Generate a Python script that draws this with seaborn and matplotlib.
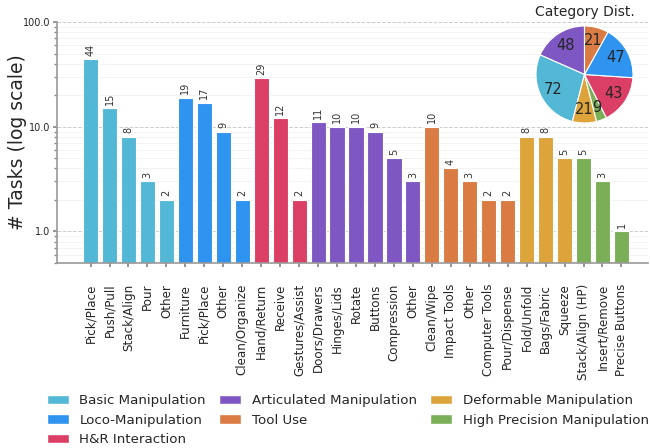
import matplotlib
matplotlib.use("Agg")
import matplotlib.pyplot as plt
import seaborn as sns
import pandas as pd
import numpy as np
from matplotlib.patches import Patch
from matplotlib.ticker import FormatStrFormatter, LogLocator, NullFormatter

categories = ["Basic Manipulation", "Loco-Manipulation", "H&R Interaction",
              "Articulated Manipulation", "Tool Use", "Deformable Manipulation",
              "High Precision Manipulation"]
colors = ["#52B8D6", "#2F93F0", "#DC3F65", "#7E57C2", "#D97B42", "#DCA43A", "#7AAF58"]

basic_labels = ["Pick/Place", "Push/Pull", "Stack/Align", "Pour", "Other"]
basic_values = [44, 15, 8, 3, 2]
loco_labels = ["Furniture", "Pick/Place", "Other", "Clean/Organize"]
loco_values = [19, 17, 9, 2]
hr_labels = ["Hand/Return", "Receive", "Gestures/Assist"]
hr_values = [29, 12, 2]
artic_labels = ["Doors/Drawers", "Hinges/Lids", "Rotate", "Buttons", "Compression", "Other"]
artic_values = [11, 10, 10, 9, 5, 3]
tool_labels = ["Clean/Wipe", "Impact Tools", "Other", "Computer Tools", "Pour/Dispense"]
tool_values = [10, 4, 3, 2, 2]
deform_labels = ["Fold/Unfold", "Bags/Fabric", "Squeeze"]
deform_values = [8, 8, 5]
hp_labels = ["Stack/Align (HP)", "Insert/Remove", "Precise Buttons"]
hp_values = [5, 3, 1]

pie_order = ["Articulated Manipulation", "Basic Manipulation", "Deformable Manipulation",
             "High Precision Manipulation", "H&R Interaction", "Loco-Manipulation", "Tool Use"]

groups = [basic_labels, loco_labels, hr_labels, artic_labels, tool_labels, deform_labels, hp_labels]
gvals = [basic_values, loco_values, hr_values, artic_values, tool_values, deform_values, hp_values]

rows = []
for cat, labs, vals in zip(categories, groups, gvals):
    for l, v in zip(labs, vals):
        rows.append({"category": cat, "subtask": l, "value": v})
df = pd.DataFrame(rows)
df["pos"] = [f"{i}" for i in range(len(df))]

sns.set_theme(style="white")
plt.rcParams['font.family'] = ['DejaVu Sans']

fig = plt.figure(figsize=(6.5, 4.48), dpi=100)
ax = fig.add_axes([57/650, 1 - 263/448, (648 - 57)/650, (263 - 22)/448])

cmap = dict(zip(categories, colors))
sns.barplot(data=df, x="pos", y="value", hue="category", palette=cmap, dodge=False,
            width=0.8, saturation=1, edgecolor="white", linewidth=0.8, legend=False, ax=ax)
ax.set_yscale("log")
ax.set_ylim(0.5, 100)
ax.set_xlim(-1.77, 29.4)

for i, v in enumerate(df["value"]):
    ax.text(i, v * 1.08, str(v), rotation=90, ha="center", va="bottom", fontsize=7, color="#333333")

ax.set_xticks(range(len(df)))
ax.set_xticklabels(df["subtask"], rotation=90, fontsize=8.6)
ax.set_xlabel("")
ax.set_ylabel("# Tasks (log scale)", fontsize=13.5)
ax.yaxis.set_label_coords(-0.05, 0.5)
ax.yaxis.set_major_formatter(FormatStrFormatter("%.1f"))
ax.yaxis.set_minor_locator(LogLocator(base=10, subs=np.arange(2, 10)))
ax.yaxis.set_minor_formatter(NullFormatter())
ax.tick_params(axis="y", which="major", labelsize=7, length=3, left=True, color="#888888", pad=2)
ax.tick_params(axis="y", which="minor", length=2, left=True, color="#888888")
ax.tick_params(axis="x", length=3, bottom=True, color="#888888", pad=12)
ax.grid(axis="y", which="major", linestyle="--", color="#cccccc", linewidth=0.7)
ax.grid(axis="y", which="minor", linestyle="-", color="#eeeeee", linewidth=0.5)
ax.set_axisbelow(True)
for s in ["top", "right"]:
    ax.spines[s].set_visible(False)
for s in ["left", "bottom"]:
    ax.spines[s].set_color("#999999")
    ax.spines[s].set_linewidth(1.2)

handles = [Patch(facecolor=c, label=l) for c, l in zip(colors, categories)]
fig.legend(handles=handles, loc="lower center", ncol=3, frameon=False, fontsize=9.6,
           bbox_to_anchor=(0.535, -0.023), columnspacing=1.0, handlelength=1.65,
           handletextpad=0.8, labelspacing=0.5)

totals = {c: sum(v) for c, v in zip(categories, gvals)}
pie_vals = [totals[c] for c in pie_order]
pie_cols = [cmap[c] for c in pie_order]
pax = fig.add_axes([(584.5 - 48.5)/650, 1 - (74.5 + 48.5)/448, 97/650, 97/448])
pax.pie(pie_vals, colors=pie_cols, startangle=90, counterclock=True,
        labels=[str(v) for v in pie_vals], labeldistance=0.72,
        textprops={"fontsize": 10.5, "ha": "center", "va": "center"},
        wedgeprops={"edgecolor": "white", "linewidth": 0.8})
pax.set_xlim(-1, 1)
pax.set_ylim(-1, 1)
pax.set_title("Category Dist.", fontsize=10, pad=7)

fig.savefig("out.png", dpi=100)
